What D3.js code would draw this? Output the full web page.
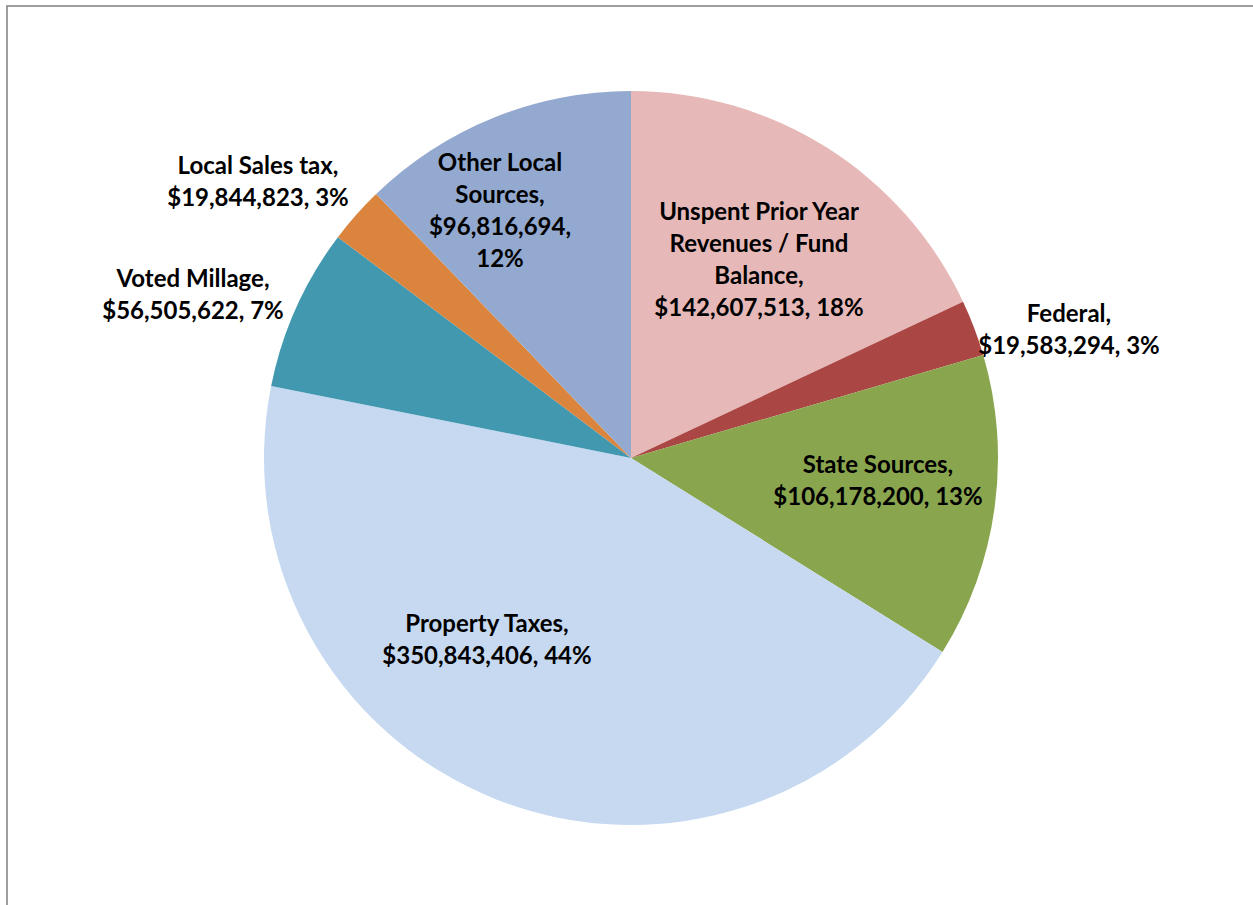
<!DOCTYPE html>
<html>
<head>
<meta charset="utf-8">
<script src="https://cdn.jsdelivr.net/npm/d3@7"></script>
<style>
  body { margin: 0; background: #fff; }
  svg { display: block; }
  .lbl { font-family: Lato, "Open Sans", sans-serif; font-weight: bold; font-size: 24px; fill: #000; }
</style>
</head>
<body>
<svg id="chart"></svg>
<script>
// data, clockwise from 12 o'clock
const categories = [
    "Unspent Prior Year Revenues / Fund Balance",
    "Federal",
    "State Sources",
    "Property Taxes",
    "Voted Millage",
    "Local Sales tax",
    "Other Local Sources"
];
const values = [142607513, 19583294, 106178200, 350843406, 56505622, 19844823, 96816694];
const colors = ["#E6B9B8", "#AA4643", "#89A54E", "#C6D9F1", "#4198AF", "#DB843D", "#93A9CF"];

// label layout: offset of the label block from the pie centre, and wrap width
const labelOffset = [[128, -199], [438, -129], [247, 22], [-144, 181], [-438, -164], [-373, -277], [-131, -248]];
const labelWrap = [222, 205, 235, 235, 235, 235, 165];

const width = 1253, height = 905;
const cx = 631, cy = 458, radius = 367;
const lineH = 32;

const svg = d3.select("#chart")
    .attr("width", width)
    .attr("height", height);

// chart frame (right / bottom edges run off the page)
svg.append("rect")
    .attr("x", 7).attr("y", 6)
    .attr("width", width + 20).attr("height", height + 20)
    .attr("fill", "none")
    .attr("stroke", "#878787")
    .attr("stroke-width", 1.6);

const data = categories.map((c, i) => ({name: c, value: values[i], color: colors[i], idx: i}));

// Excel style percentages: largest remainder so they add up to 100
const total = d3.sum(values);
const raw = values.map(v => v / total * 100);
const pct = raw.map(Math.floor);
let left = 100 - d3.sum(pct);
d3.range(raw.length)
    .sort((a, b) => (raw[b] - pct[b]) - (raw[a] - pct[a]))
    .slice(0, left)
    .forEach(i => pct[i] += 1);

const pie = d3.pie().value(d => d.value).sort(null);
const arc = d3.arc().innerRadius(0).outerRadius(radius);

const g = svg.append("g").attr("transform", `translate(${cx},${cy})`);

g.selectAll("path")
    .data(pie(data))
    .join("path")
    .attr("d", arc)
    .attr("fill", d => d.data.color);

const fmt = d3.format("$,");

const labels = g.selectAll("text.lbl")
    .data(data)
    .join("text")
    .attr("class", "lbl")
    .attr("text-anchor", "middle")
    .attr("x", d => labelOffset[d.idx][0])
    .attr("y", d => labelOffset[d.idx][1]);

// greedy word wrap
labels.each(function(d) {
    const el = d3.select(this);
    const words = (d.name + ", " + fmt(d.value) + ", " + pct[d.idx] + "%").split(" ");
    const maxW = labelWrap[d.idx];
    const lines = [];
    let cur = [];
    const probe = el.append("tspan");
    words.forEach(w => {
        const test = cur.concat(w).join(" ");
        probe.text(test);
        if (cur.length && probe.node().getComputedTextLength() > maxW) {
            lines.push(cur.join(" "));
            cur = [w];
        } else {
            cur.push(w);
        }
    });
    lines.push(cur.join(" "));
    probe.remove();
    const x = labelOffset[d.idx][0];
    const y0 = labelOffset[d.idx][1] - (lines.length - 1) * lineH / 2;
    lines.forEach((t, k) => {
        el.append("tspan")
            .attr("x", x)
            .attr("y", y0 + k * lineH)
            .attr("dy", "0.36em")
            .text(t);
    });
});
</script>
</body>
</html>
